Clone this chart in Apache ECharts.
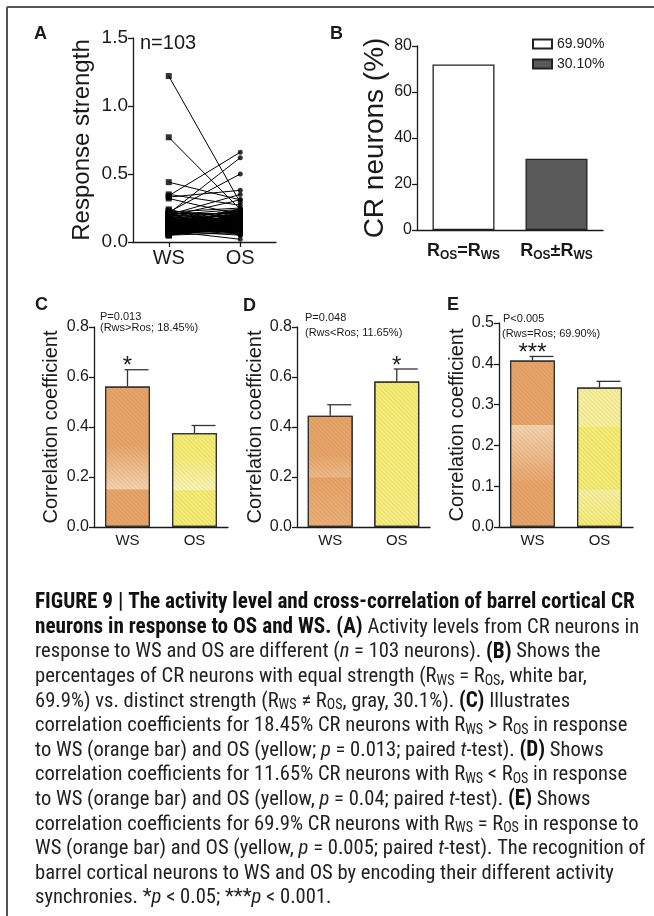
<!DOCTYPE html>
<html>
<head>
<meta charset="utf-8">
<script src="https://cdn.jsdelivr.net/npm/echarts@6/dist/echarts.min.js"></script>
<style>
  html, body { margin: 0; padding: 0; background: #fff; }
  #main { width: 654px; height: 916px; }
</style>
</head>
<body>
<div id="main"></div>
<script>
// ---- panel A: paired response strength, WS vs OS (n = 103) ----
const pairCats = ['WS', 'OS'];
const aTicks = [0, 0.5, 1.0, 1.5];
const wsStrength = [
  1.22, 0.77, 0.44, 0.35, 0.34, 0.33, 0.32, 0.22, 0.21, 0.20, 0.19, 0.08,
  0.24, 0.23, 0.23, 0.22, 0.22, 0.21, 0.21, 0.20, 0.20, 0.20,
  0.19, 0.19, 0.19, 0.18, 0.18, 0.18, 0.18, 0.17, 0.17, 0.17,
  0.17, 0.16, 0.16, 0.16, 0.16, 0.16, 0.15, 0.15, 0.15, 0.15,
  0.15, 0.14, 0.14, 0.14, 0.14, 0.14, 0.14, 0.13, 0.13, 0.13,
  0.13, 0.13, 0.13, 0.12, 0.12, 0.12, 0.12, 0.12, 0.12, 0.12,
  0.11, 0.11, 0.11, 0.11, 0.11, 0.11, 0.10, 0.10, 0.10, 0.10,
  0.10, 0.10, 0.10, 0.09, 0.09, 0.09, 0.09, 0.09, 0.09, 0.08,
  0.08, 0.08, 0.08, 0.08, 0.08, 0.07, 0.07, 0.07, 0.07, 0.07,
  0.07, 0.06, 0.06, 0.06, 0.06, 0.06, 0.05, 0.05, 0.05, 0.05,
  0.05
];
const osStrength = [
  0.29, 0.24, 0.31, 0.27, 0.66, 0.38, 0.20, 0.50, 0.62, 0.35, 0.31, 0.02,
  0.12, 0.18, 0.09, 0.25, 0.14, 0.07, 0.21, 0.11, 0.16, 0.24,
  0.10, 0.13, 0.22, 0.08, 0.19, 0.15, 0.06, 0.23, 0.12, 0.17,
  0.09, 0.20, 0.14, 0.11, 0.05, 0.18, 0.13, 0.24, 0.10, 0.16,
  0.07, 0.21, 0.12, 0.15, 0.19, 0.09, 0.23, 0.11, 0.14, 0.06,
  0.17, 0.10, 0.22, 0.13, 0.08, 0.16, 0.12, 0.20, 0.15, 0.09,
  0.18, 0.11, 0.24, 0.14, 0.07, 0.13, 0.19, 0.10, 0.16, 0.12,
  0.21, 0.08, 0.15, 0.11, 0.17, 0.13, 0.06, 0.20, 0.09, 0.14,
  0.12, 0.18, 0.10, 0.16, 0.05, 0.13, 0.22, 0.11, 0.15, 0.08,
  0.19, 0.12, 0.14, 0.10, 0.17, 0.09, 0.13, 0.11, 0.16, 0.07,
  0.12
];

// ---- panel B: share of CR neurons ----
const crCats = ['R_OS=R_WS', 'R_OS\u00B1R_WS'];
const crPercent = [72, 31];
const crLegend = ['69.90%', '30.10%'];
const bTicks = [0, 20, 40, 60, 80];

// ---- panels C, D, E: correlation coefficient, mean and error top ----
const corrCats = ['WS', 'OS'];
const cdTicks = [0, 0.2, 0.4, 0.6, 0.8];
const eTicks = [0, 0.1, 0.2, 0.3, 0.4, 0.5];
const cMean = [0.562, 0.376], cErr = [0.629, 0.406], cSig = ['*', ''];
const dMean = [0.445, 0.582], dErr = [0.489, 0.632], dSig = ['', '*'];
const eMean = [0.408, 0.342], eErr = [0.418, 0.357], eSig = ['***', ''];
const cNote = ['P=0.013', '(Rws>Ros; 18.45%)'];
const dNote = ['P=0.048', '(Rws<Ros; 11.65%)'];
const eNote = ['P<0.005', '(Rws=Ros; 69.90%)'];

const FONT = 'Liberation Sans, Arial, sans-serif';
const CAP_FONT = "'Liberation Sans Narrow', 'Roboto Condensed', 'Liberation Sans', sans-serif";
const INK = '#1a1a1a';

const myChart = echarts.init(document.getElementById('main'));

const ORANGE = '#E7A469', ORANGE_L = '#F3D3B0';
const YELLOW = '#F4EC74', YELLOW_L = '#F8F4B6';
const grad = (stops) => new echarts.graphic.LinearGradient(0, 0, 0, 1,
  stops.map(s => ({ offset: s[0], color: s[1] })));

// band-like shading seen in the scanned bars
const fills = {
  c: [
    grad([[0, ORANGE], [0.42, ORANGE], [0.73, ORANGE_L], [0.735, ORANGE], [1, ORANGE]]),
    grad([[0, YELLOW], [0.25, YELLOW], [0.6, YELLOW_L], [0.615, YELLOW], [1, YELLOW]])
  ],
  d: [
    grad([[0, ORANGE], [0.35, ORANGE], [0.55, '#EDBA8A'], [0.56, ORANGE], [1, '#EBAE78']]),
    grad([[0, YELLOW], [1, '#F5EE80']])
  ],
  e: [
    grad([[0, ORANGE], [0.385, ORANGE], [0.388, ORANGE_L], [0.75, ORANGE], [1, ORANGE]]),
    grad([[0, '#F6F09C'], [0.28, '#F6F09C'], [0.285, YELLOW], [0.73, YELLOW], [0.735, '#F6F1A4'], [1, YELLOW]])
  ]
};

const hatch = {
  symbol: 'rect', symbolSize: 1,
  dashArrayX: [1, 0], dashArrayY: [1, 2],
  rotation: Math.PI / 4,
  color: 'rgba(120, 80, 30, 0.10)'
};

function valueAxis(grid, ticks, fmt, name, nameGap, nameSize, labelSize) {
  return {
    gridIndex: grid, type: 'value',
    min: ticks[0], max: ticks[ticks.length - 1], interval: ticks[1] - ticks[0],
    splitLine: { show: false },
    axisLine: { show: true, lineStyle: { color: INK, width: 1.3 } },
    axisTick: { show: true, length: 5, lineStyle: { color: INK, width: 1.3 } },
    axisLabel: { formatter: fmt, fontSize: labelSize, color: INK, fontFamily: FONT, margin: 5 },
    name: name, nameLocation: 'middle', nameGap: nameGap,
    nameTextStyle: { fontSize: nameSize, color: INK, fontFamily: FONT }
  };
}

function catAxis(grid, cats, labelSize, margin, tick) {
  return {
    gridIndex: grid, type: 'category', data: cats,
    axisLine: { lineStyle: { color: INK, width: 1.3 } },
    axisTick: { show: tick, alignWithLabel: true, length: 5, lineStyle: { color: INK, width: 1.3 } },
    axisLabel: { interval: 0, fontSize: labelSize, color: INK, fontFamily: FONT, margin: margin }
  };
}

function corrBars(idx, means, fillSet) {
  return {
    type: 'bar', xAxisIndex: idx, yAxisIndex: idx,
    barWidth: 45,
    data: means.map((v, i) => ({
      value: v,
      itemStyle: { color: fillSet[i], borderColor: '#333', borderWidth: 1.2, decal: hatch }
    }))
  };
}

function errBars(idx, means, errs, sig) {
  return {
    type: 'custom', xAxisIndex: idx, yAxisIndex: idx, z: 5,
    data: means.map((m, i) => [i, m, errs[i], sig[i]]),
    renderItem: (params, api) => {
      const p0 = api.coord([api.value(0), api.value(1)]);
      const p1 = api.coord([api.value(0), api.value(2)]);
      const mark = sig[params.dataIndex];
      const kids = [
        { type: 'line', shape: { x1: p0[0], y1: p0[1], x2: p1[0], y2: p1[1] },
          style: { stroke: '#333', lineWidth: 1.3 } },
        { type: 'line', shape: { x1: p1[0] - 3, y1: p1[1], x2: p1[0] + 21, y2: p1[1] },
          style: { stroke: '#333', lineWidth: 1.3 } }
      ];
      if (mark) {
        kids.push({ type: 'text', x: p1[0], y: p1[1] - 3,
          style: { text: mark, fontSize: 24, fontFamily: FONT, fill: INK,
                   align: 'center', verticalAlign: 'middle' } });
      }
      return { type: 'group', children: kids };
    }
  };
}

const richSubLabel = v => v.split(/R_(OS|WS)/)
  .map((part, i) => i % 2 ? '{b|R}{s|' + part + '}' : (part ? '{b|' + part + '}' : ''))
  .join('');

// caption lines, kept as they break in the figure
const capLines = [
  '{b|FIGURE 9 | The activity level and cross-correlation of barrel cortical CR}',
  '{b|neurons in response to OS and WS. (A)}{n| Activity levels from CR neurons in}',
  '{n|response to WS and OS are different (}{i|n}{n| = 103 neurons). }{b|(B)}{n| Shows the}',
  '{n|percentages of CR neurons with equal strength (R}{s|WS}{n| = R}{s|OS}{n|, white bar,}',
  '{n|69.9%) vs. distinct strength (R}{s|WS}{n| \u2260 R}{s|OS}{n|, gray, 30.1%). }{b|(C)}{n| Illustrates}',
  '{n|correlation coefficients for 18.45% CR neurons with R}{s|WS}{n| > R}{s|OS}{n| in response}',
  '{n|to WS (orange bar) and OS (yellow; }{i|p}{n| = 0.013; paired }{i|t}{n|-test). }{b|(D)}{n| Shows}',
  '{n|correlation coefficients for 11.65% CR neurons with R}{s|WS}{n| < R}{s|OS}{n| in response}',
  '{n|to WS (orange bar) and OS (yellow, }{i|p}{n| = 0.04; paired }{i|t}{n|-test). }{b|(E)}{n| Shows}',
  '{n|correlation coefficients for 69.9% CR neurons with R}{s|WS}{n| = R}{s|OS}{n| in response to}',
  '{n|WS (orange bar) and OS (yellow, }{i|p}{n| = 0.005; paired }{i|t}{n|-test). The recognition of}',
  '{n|barrel cortical neurons to WS and OS by encoding their different activity}',
  '{n|synchronies. *}{i|p}{n| < 0.05; ***}{i|p}{n| < 0.001.}'
];
const capRich = {
  n: { fontSize: 20.6, fontFamily: CAP_FONT, fill: '#222', lineHeight: 22 },
  b: { fontSize: 21.2, fontFamily: CAP_FONT, fontWeight: 'bold', fill: '#111', lineHeight: 22 },
  i: { fontSize: 20.6, fontFamily: CAP_FONT, fontStyle: 'italic', fill: '#222', lineHeight: 22 },
  s: { fontSize: 14, fontFamily: CAP_FONT, fill: '#222', lineHeight: 22, padding: [9, 0, 0, 0] }
};

const label = (txt, x, y, size, bold) => ({
  type: 'text', x: x, y: y,
  style: { text: txt, fontSize: size, fontFamily: FONT, fontWeight: bold ? 'bold' : 'normal',
           fill: INK, verticalAlign: 'middle' }
});

const graphics = [
  // frame
  { type: 'line', shape: { x1: 7, y1: 7, x2: 7, y2: 916 }, style: { stroke: '#555', lineWidth: 2 } },
  { type: 'line', shape: { x1: 7, y1: 7, x2: 654, y2: 7 }, style: { stroke: '#555', lineWidth: 2 } },
  // panel letters
  label('A', 34, 34, 18, true),
  label('B', 330, 34, 18, true),
  label('C', 35, 305, 18, true),
  label('D', 243, 306, 18, true),
  label('E', 447, 305, 18, true),
  label('n=103', 140, 43, 20, false),
  label(cNote[0], 100, 317, 11, false), label(cNote[1], 100, 328, 11, false),
  label(dNote[0], 305, 318, 11, false), label(dNote[1], 305, 333, 11, false),
  label(eNote[0], 503, 319, 11, false), label(eNote[1], 502, 334, 11, false)
];
capLines.forEach((line, k) => {
  graphics.push({
    type: 'text', x: 35, y: 603 + k * 24.6,
    style: { text: line, rich: capRich, verticalAlign: 'middle' }
  });
});

const options = {
  animation: false,
  textStyle: { fontFamily: FONT },
  grid: [
    { left: 133, top: 38, width: 143, height: 204 },
    { left: 417, top: 46, width: 186, height: 184 },
    { left: 94, top: 327, width: 134, height: 200 },
    { left: 297, top: 327, width: 133, height: 200 },
    { left: 499, top: 323, width: 134, height: 204 }
  ],
  legend: {
    data: crLegend, left: 532, top: 37, orient: 'vertical',
    icon: 'rect', itemWidth: 19, itemHeight: 9, itemGap: 6, padding: 0,
    selectedMode: false,
    textStyle: { fontSize: 14, color: '#222', fontFamily: FONT }
  },
  xAxis: [
    catAxis(0, pairCats, 20, 6, true),
    Object.assign(catAxis(1, crCats, 18, 11, false), {
      axisLabel: {
        interval: 0, margin: 11, color: INK, formatter: richSubLabel,
        rich: {
          b: { fontSize: 18, fontWeight: 'bold', fontFamily: FONT, color: INK },
          s: { fontSize: 12, fontWeight: 'bold', fontFamily: FONT, color: INK, padding: [9, 0, 0, 0] }
        }
      }
    }),
    catAxis(2, corrCats, 15, 6, false),
    catAxis(3, corrCats, 15, 6, false),
    catAxis(4, corrCats, 15, 6, false)
  ],
  yAxis: [
    valueAxis(0, aTicks, v => v.toFixed(1), 'Response strength', 39, 24, 19),
    valueAxis(1, bTicks, v => String(v), 'CR neurons (%)', 28, 28, 16),
    valueAxis(2, cdTicks, v => v.toFixed(1), 'Correlation coefficient', 33, 20, 16),
    valueAxis(3, cdTicks, v => v.toFixed(1), 'Correlation coefficient', 30, 20, 16),
    valueAxis(4, eTicks, v => v.toFixed(1), 'Correlation coefficient', 32, 20, 16)
  ],
  series: [
    {
      type: 'custom', xAxisIndex: 0, yAxisIndex: 0,
      data: wsStrength.map((w, i) => [w, osStrength[i]]),
      renderItem: (params, api) => {
        const a = api.coord([0, api.value(0)]);
        const b = api.coord([1, api.value(1)]);
        return { type: 'line', shape: { x1: a[0], y1: a[1], x2: b[0], y2: b[1] },
                 style: { stroke: '#000', lineWidth: 1 } };
      }
    },
    {
      type: 'scatter', xAxisIndex: 0, yAxisIndex: 0, symbol: 'rect', symbolSize: 6,
      itemStyle: { color: '#000' }, z: 3,
      data: wsStrength.map(v => [0, v])
    },
    {
      type: 'scatter', xAxisIndex: 0, yAxisIndex: 0, symbol: 'circle', symbolSize: 5,
      itemStyle: { color: '#000' }, z: 3,
      data: osStrength.map(v => [1, v])
    },
    {
      name: crLegend[0], type: 'bar', xAxisIndex: 1, yAxisIndex: 1,
      barWidth: 62, barGap: '-100%',
      itemStyle: { color: '#fff', borderColor: '#222', borderWidth: 1.3 },
      data: [crPercent[0], '-']
    },
    {
      name: crLegend[1], type: 'bar', xAxisIndex: 1, yAxisIndex: 1,
      barWidth: 62, barGap: '-100%',
      itemStyle: { color: '#595959', borderColor: '#222', borderWidth: 1.3 },
      data: ['-', crPercent[1]]
    },
    corrBars(2, cMean, fills.c), errBars(2, cMean, cErr, cSig),
    corrBars(3, dMean, fills.d), errBars(3, dMean, dErr, dSig),
    corrBars(4, eMean, fills.e), errBars(4, eMean, eErr, eSig)
  ],
  graphic: graphics
};

myChart.setOption(options);
</script>
</body>
</html>
